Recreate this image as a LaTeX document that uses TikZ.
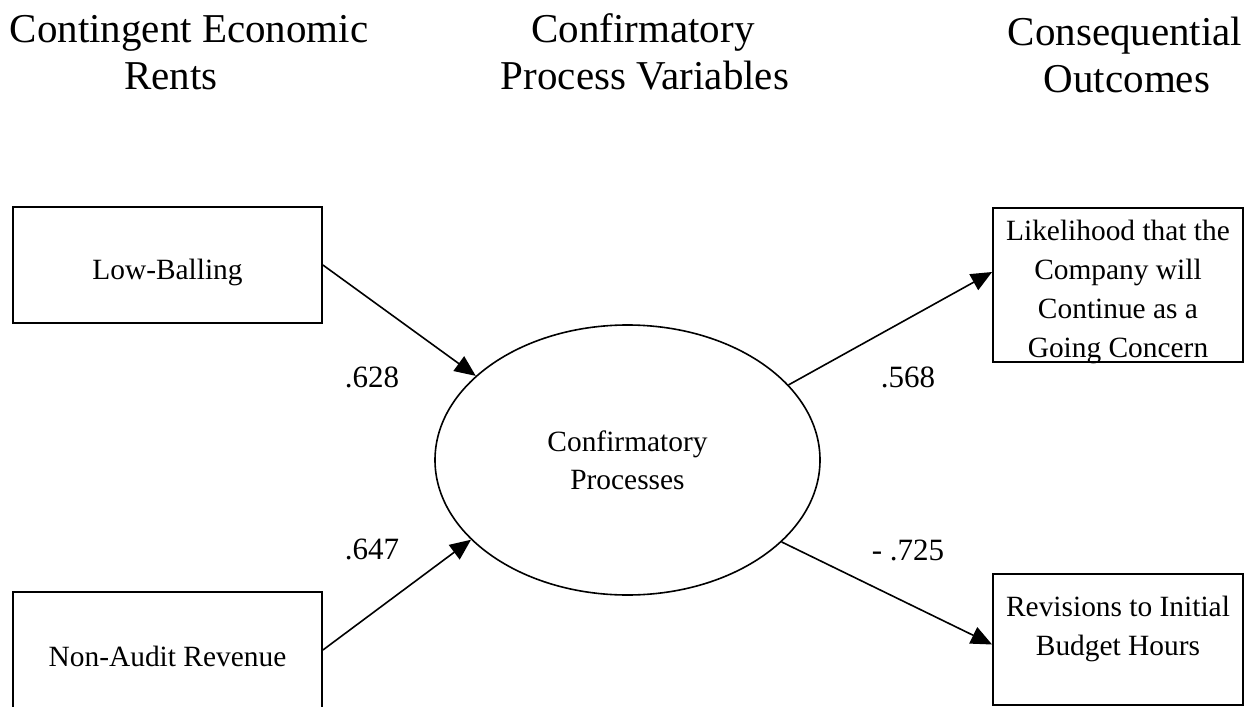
\documentclass[tikz,border=0pt]{standalone}
\usepackage{fontspec}
\setmainfont{Liberation Serif}
\usetikzlibrary{shapes.geometric,arrows.meta}
\begin{document}
\begin{tikzpicture}[x=1pt,y=-1pt,
  hdr/.style={font=\fontsize{41}{47}\selectfont,inner sep=0pt,anchor=base},
  txt/.style={font=\fontsize{29.4}{39}\selectfont,inner sep=0pt,align=center},
  lbl/.style={font=\fontsize{31}{36}\selectfont,inner sep=0pt},
  box/.style={draw,line width=1.8pt,inner sep=0pt},
  oval/.style={draw,ellipse,line width=1.6pt,inner sep=0pt,minimum width=385pt,minimum height=270pt,font=\fontsize{29.4}{38}\selectfont,align=center},
  arr/.style={line width=1.6pt,-{Triangle[length=21pt,width=18pt]}}
]
\useasboundingbox (0,0) rectangle (1251,707);
\fill[white] (0,0) rectangle (1251,707);

% headers
\node[hdr] (h1a) at (189,42) {Contingent Economic};
\node[hdr] (h1b) at (171,89) {Rents};
\node[hdr] (h2a) at (643,42) {Confirmatory};
\node[hdr] (h2b) at (645,89) {Process Variables};
\node[hdr] (h3a) at (1125,45) {Consequential};
\node[hdr] (h3b) at (1127,92) {Outcomes};

% left boxes
\node[box,minimum width=309pt,minimum height=116pt] (lb) at (167.5,265) {};
\node[txt] (lbt) at (167.5,272) {Low-Balling};
\node[box,minimum width=309pt,minimum height=116pt] (na) at (167.5,650) {};
\node[txt] (nat) at (167.5,656) {Non-Audit Revenue};

% central ellipse
\node[oval] (cp) at (627.5,460) {Confirmatory\\Processes};

% right boxes
\node[box,minimum width=250pt,minimum height=154pt] (lk) at (1118,285) {};
\node[txt] (lkt) at (1118,291.5) {Likelihood that the\\Company will\\Continue as a\\Going Concern};
\node[box,minimum width=250pt,minimum height=131pt] (rv) at (1118,639.5) {};
\node[txt] (rvt) at (1118,629) {Revisions to Initial\\Budget Hours};

% connectors
\draw[arr] (lb.east) -- (cp.151.9);
\draw[arr] (na.east) -- (cp.207.1);
\draw[arr] (cp.25.8) -- ([yshift=13pt]lk.west);
\draw[arr] (cp.332.8) -- ([yshift=-5pt]rv.west);

% coefficients
\node[lbl] (c1) at (372,377) {.628};
\node[lbl] (c2) at (372,549) {.647};
\node[lbl] (c3) at (908,377) {.568};
\node[lbl] (c4) at (908,550) {- .725};
\end{tikzpicture}
\end{document}
